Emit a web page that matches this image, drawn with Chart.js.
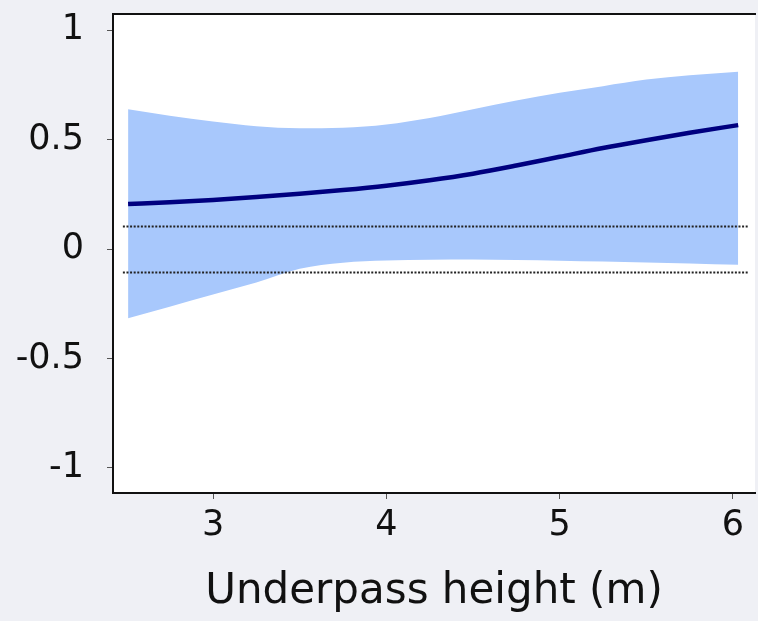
<!DOCTYPE html>
<html>
<head>
<meta charset="utf-8">
<script src="https://cdn.jsdelivr.net/npm/chart.js@4/dist/chart.umd.min.js"></script>
<style>
  html, body { margin: 0; padding: 0; background: #eff0f5; }
  #wrap { width: 758px; height: 621px; position: relative; }
</style>
</head>
<body>
<div id="wrap"><canvas id="c" width="758" height="621"></canvas></div>
<script>
// ---- data ----
const heights = [2.51, 2.75, 3.0, 3.25, 3.5, 3.75, 4.0, 4.25, 4.5, 4.75, 5.0, 5.25, 5.5, 5.75, 6.03];
const fitValues = [0.206, 0.214, 0.225, 0.238, 0.253, 0.27, 0.29, 0.315, 0.345, 0.382, 0.422, 0.462, 0.498, 0.532, 0.567];
const upperCI = [0.64, 0.61, 0.583, 0.562, 0.553, 0.555, 0.57, 0.60, 0.64, 0.68, 0.715, 0.745, 0.775, 0.795, 0.811];
const lowerCI = [-0.316, -0.263, -0.208, -0.153, -0.09, -0.062, -0.052, -0.049, -0.048, -0.05, -0.053, -0.057, -0.061, -0.066, -0.072];
const refLineX = [2.48, 6.09];
const refUpper = [0.104, 0.104];
const refLower = [-0.107, -0.107];
const xTicks = [3, 4, 5, 6];
const yTicks = [-1, -0.5, 0, 0.5, 1];
const xTitle = 'Underpass height (m)';

const pts = (xs, ys) => xs.map((x, i) => ({ x: x, y: ys[i] }));

const bgPlugin = {
  id: 'bg',
  beforeDraw(chart) {
    const { ctx, chartArea: a } = chart;
    ctx.save();
    ctx.fillStyle = '#eff0f5';
    ctx.fillRect(0, 0, chart.width, chart.height);
    ctx.fillStyle = '#ffffff';
    ctx.fillRect(a.left, a.top, a.right - a.left, a.bottom - a.top);
    ctx.restore();
  }
};

const noPad = s => { s.paddingTop = 0; s.paddingBottom = 0; s.paddingLeft = 0; s.paddingRight = 0; };
const FONT = "'DejaVu Sans', Verdana, sans-serif";

new Chart(document.getElementById('c'), {
  type: 'line',
  data: {
    datasets: [
      { data: pts(heights, upperCI), borderWidth: 0, pointRadius: 0, backgroundColor: '#a8c8fc', fill: '+1', cubicInterpolationMode: 'monotone', order: 3 },
      { data: pts(heights, lowerCI), borderWidth: 0, pointRadius: 0, backgroundColor: '#a8c8fc', fill: false, cubicInterpolationMode: 'monotone', order: 3 },
      { data: pts(refLineX, refUpper), borderColor: '#222', borderWidth: 2, borderDash: [2, 1.6], pointRadius: 0, fill: false, order: 2 },
      { data: pts(refLineX, refLower), borderColor: '#222', borderWidth: 2, borderDash: [2, 1.6], pointRadius: 0, fill: false, order: 2 },
      { data: pts(heights, fitValues), borderColor: '#00007f', borderWidth: 4.5, pointRadius: 0, fill: false, cubicInterpolationMode: 'monotone', order: 1 }
    ]
  },
  options: {
    responsive: false,
    animation: false,
    layout: { padding: { top: 14, right: 3, left: 0, bottom: 0 } },
    plugins: { legend: { display: false }, tooltip: { enabled: false } },
    scales: {
      x: {
        type: 'linear',
        min: 2.423,
        max: 6.127,
        afterBuildTicks: s => { s.ticks = xTicks.map(v => ({ value: v })); },
        afterFit: s => { s.height = 128; noPad(s); },
        grid: { drawOnChartArea: false, tickLength: 6, color: '#555', lineWidth: 1 },
        border: { color: '#111', width: 2 },
        ticks: { color: '#111', font: { family: FONT, size: 35 }, padding: 6, maxRotation: 0, callback: v => String(v) },
        title: { display: true, text: xTitle, color: '#111', font: { family: FONT, size: 42 }, padding: { top: 6, bottom: 4 } }
      },
      xTop: {
        type: 'linear',
        position: 'top',
        min: 2.423,
        max: 6.127,
        afterFit: s => { s.height = 0; noPad(s); },
        grid: { display: false },
        ticks: { display: false },
        border: { display: true, color: '#111', width: 2 }
      },
      y: {
        min: -1.115,
        max: 1.075,
        afterBuildTicks: s => { s.ticks = yTicks.map(v => ({ value: v })); },
        afterFit: s => { s.width = 113; noPad(s); },
        grid: { drawOnChartArea: false, tickLength: 6, color: '#555', lineWidth: 1 },
        border: { color: '#111', width: 2 },
        ticks: { color: '#111', font: { family: FONT, size: 35 }, padding: 23, callback: v => String(v) }
      }
    }
  },
  plugins: [bgPlugin]
});
</script>
</body>
</html>
